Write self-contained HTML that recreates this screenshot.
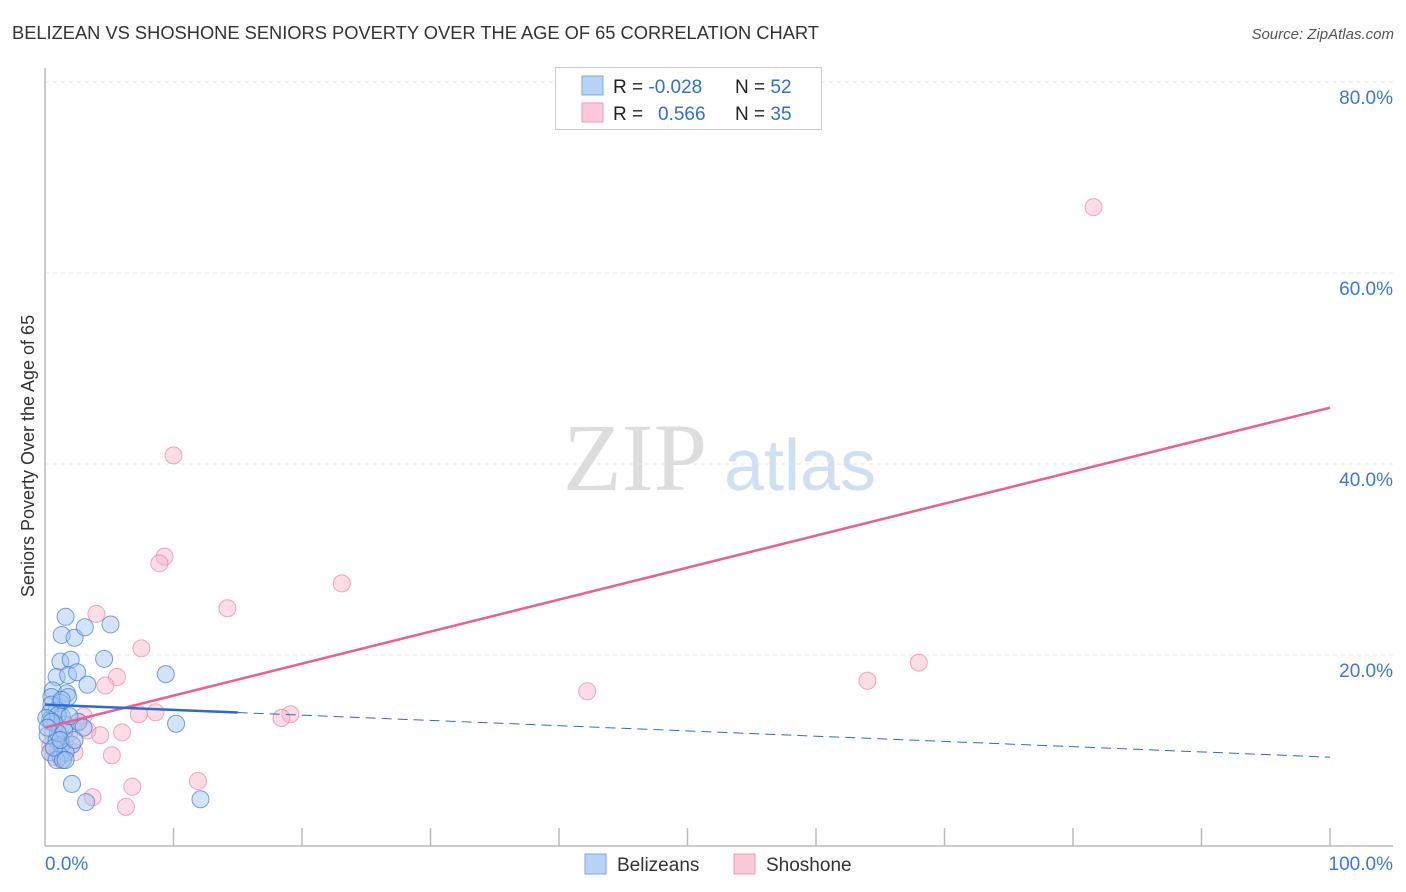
<!DOCTYPE html>
<html><head><meta charset="utf-8"><style>
body{margin:0;background:#fff;font-family:"Liberation Sans",sans-serif;}
svg{display:block}
</style></head><body>
<svg id="chart" width="1406" height="892" xmlns="http://www.w3.org/2000/svg">
<text x="12" y="39" font-size="18.3" fill="#333">BELIZEAN VS SHOSHONE SENIORS POVERTY OVER THE AGE OF 65 CORRELATION CHART</text>
<text x="1394" y="39" font-size="15" fill="#555" font-style="italic" text-anchor="end">Source: ZipAtlas.com</text>
<text x="34" y="456" font-size="18" fill="#333" text-anchor="middle" transform="rotate(-90 34 456)">Seniors Poverty Over the Age of 65</text>
<g id="grid"></g>
<g id="axes">
<line x1="45" y1="68" x2="45" y2="846" stroke="#bbb" stroke-width="1.5"/>
<line x1="45" y1="846" x2="1393" y2="846" stroke="#bbb" stroke-width="1.5"/>
</g>
<g>
<text x="635" y="490" font-size="96" fill="#ddd" font-family="Liberation Serif,serif" text-anchor="middle">ZIP</text>
<text x="800" y="490" font-size="72" fill="#cfe0f5" text-anchor="middle">atlas</text>
</g>
<g id="pts"></g>
<g id="lines"></g>
<g>
<rect x="555.5" y="67.5" width="266" height="62" fill="#fff" stroke="#ccc"/>
<rect x="582" y="76" width="21" height="19" fill="#b8d4f5" stroke="#7aaae8"/>
<rect x="582" y="103" width="21" height="19" fill="#fbc9d8" stroke="#f09ab5"/>
<text x="613" y="93" font-size="19" fill="#222">R = <tspan fill="#2f6fd6">-0.028</tspan></text>
<text x="735" y="93" font-size="19" fill="#222">N = <tspan fill="#2f6fd6">52</tspan></text>
<text x="613" y="120" font-size="19" fill="#222">R = <tspan fill="#2f6fd6" x="658">0.566</tspan></text>
<text x="735" y="120" font-size="19" fill="#222">N = <tspan fill="#2f6fd6">35</tspan></text>
</g>
<g>
<rect x="585" y="854" width="21" height="20" fill="#b8d4f5" stroke="#7aaae8"/>
<text x="617" y="871" font-size="19" fill="#333">Belizeans</text>
<rect x="734" y="854" width="21" height="20" fill="#fbc9d8" stroke="#f09ab5"/>
<text x="766" y="871" font-size="19" fill="#333">Shoshone</text>
</g>
</svg>
<script>
const yTicks=[20,40,60,80];
const yTickLabels=["20.0%","40.0%","60.0%","80.0%"];
const xTickLabels=["0.0%","100.0%"];
const blueX=[1.6,1.3,2.3,3.1,5.1,1.2,2.0,4.6,9.4,0.9,1.8,2.5,0.6,1.7,3.3,0.5,1.2,1.8,0.4,0.9,1.3,0.4,0.8,1.6,2.6,10.2,3.0,0.2,0.9,1.3,2.1,0.4,1.2,1.6,0.9,1.4,2.1,3.2,12.1,0.5,1.0,0.1,0.7,1.5,1.9,1.0,0.5,0.2,1.2,1.6,2.3,1.3];
const blueY=[24.0,22.1,21.8,22.9,23.2,19.3,19.5,19.6,18.0,17.7,17.9,18.2,16.3,16.0,16.9,15.6,15.0,15.6,14.0,14.2,13.6,13.2,12.8,12.7,13.0,12.8,12.4,11.6,11.1,10.6,10.6,9.8,9.4,9.8,9.0,9.0,6.5,4.6,4.9,14.8,13.7,13.4,10.3,12.1,13.6,11.8,13.0,12.4,11.1,9.0,11.1,15.3];
const pinkX=[81.6,10.0,9.3,8.9,23.1,14.2,4.0,7.5,68.0,42.2,64.0,5.6,4.7,7.3,8.6,19.1,18.4,3.0,2.6,3.3,4.3,6.0,0.4,1.0,2.3,5.2,1.3,0.8,11.9,6.8,3.7,6.3,1.6,1.2,1.9];
const pinkY=[66.9,40.9,30.3,29.6,27.5,24.9,24.3,20.7,19.2,16.2,17.3,17.7,16.8,13.8,14.0,13.8,13.4,13.6,13.0,12.1,11.6,11.9,10.5,10.1,9.8,9.5,9.0,9.3,6.8,6.2,5.1,4.1,11.1,12.4,11.8];
const blueTrend=[14.8,-0.055];
const pinkTrend=[12.4,0.335];
const NS="http://www.w3.org/2000/svg";
const sx=v=>45+v*12.85;
const sy=v=>846-v*9.55;
function mk(t,a,p){const e=document.createElementNS(NS,t);for(const k in a)e.setAttribute(k,a[k]);p.appendChild(e);return e;}
const grid=document.getElementById('grid');
yTicks.forEach((t,i)=>{
 mk('line',{x1:45,x2:1393,y1:sy(t),y2:sy(t),stroke:'#e6e6e6','stroke-dasharray':'4 4'},grid);
 const tx=mk('text',{x:1393,y:sy(t)+22,'font-size':19,fill:'#3b78d8','text-anchor':'end'},grid);
 
 
 tx.textContent=yTickLabels[i];
});
for(let i=1;i<=10;i++){mk('line',{x1:sx(i*10),x2:sx(i*10),y1:828,y2:846,stroke:'#bbb','stroke-width':1.5},grid);}
const xl0=mk('text',{x:45,y:870,'font-size':19,fill:'#3b78d8'},grid);


xl0.textContent=xTickLabels[0];
const xl1=mk('text',{x:1393,y:870,'font-size':19,fill:'#3b78d8','text-anchor':'end'},grid);


xl1.textContent=xTickLabels[1];
const pts=document.getElementById('pts');
pinkX.forEach((x,i)=>{const c=mk('circle',{cx:sx(x),cy:sy(pinkY[i]),r:8.5,fill:'rgba(248,180,200,0.45)',stroke:'rgba(236,130,165,0.7)','stroke-width':1},pts);

});
blueX.forEach((x,i)=>{const c=mk('circle',{cx:sx(x),cy:sy(blueY[i]),r:8.5,fill:'rgba(160,196,240,0.45)',stroke:'rgba(60,120,215,0.7)','stroke-width':1},pts);

});
const ln=document.getElementById('lines');
const pl=mk('line',{x1:sx(0),y1:sy(pinkTrend[0]),x2:sx(100),y2:sy(pinkTrend[0]+pinkTrend[1]*100),stroke:'#e8628f','stroke-width':2.5},ln);


const bl=mk('line',{x1:sx(0),y1:sy(blueTrend[0]),x2:sx(15),y2:sy(blueTrend[0]+blueTrend[1]*15),stroke:'#2a6bd6','stroke-width':2.5},ln);


const bd=mk('line',{x1:sx(15),y1:sy(blueTrend[0]+blueTrend[1]*15),x2:sx(100),y2:sy(blueTrend[0]+blueTrend[1]*100),stroke:'#2a6bd6','stroke-width':1,'stroke-dasharray':'10 6'},ln);


</script>
</body></html>
